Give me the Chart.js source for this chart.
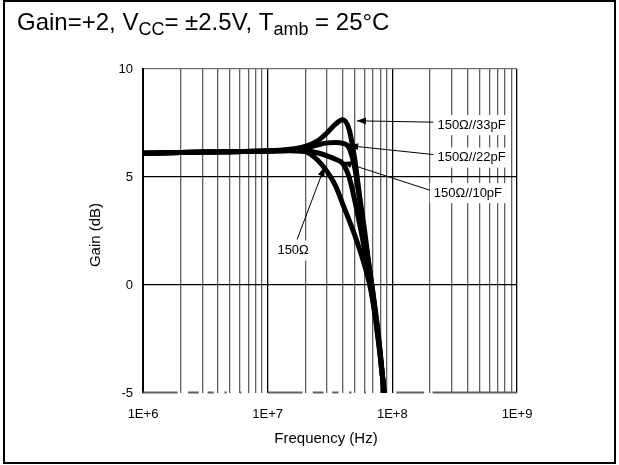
<!DOCTYPE html>
<html>
<head>
<meta charset="utf-8">
<script src="https://cdn.jsdelivr.net/npm/chart.js@4.4.0/dist/chart.umd.min.js"></script>
<style>
  html, body { margin: 0; padding: 0; background: #fff; }
  canvas { display: block; }
</style>
</head>
<body>
<canvas id="gainChart" width="619" height="465"></canvas>
<script>
// frequency points in MHz, gains in dB
const freqsMHz = [1, 2, 5, 10, 15, 20, 25, 30, 35, 40, 45, 50, 55, 60, 65, 70, 78, 86];
const gain150 = [6.10, 6.13, 6.17, 6.20, 6.22, 6.18, 5.80, 5.25, 4.60, 3.75, 3.00, 2.30, 1.60, 0.90, 0.15, -0.80, -2.80, -5.00];
const gain10pF = [6.10, 6.13, 6.17, 6.20, 6.23, 6.21, 6.12, 5.98, 5.82, 5.63, 5.00, 3.90, 2.75, 1.60, 0.40, -0.70, -2.70, -5.00];
const gain22pF = [6.10, 6.13, 6.17, 6.20, 6.25, 6.33, 6.48, 6.58, 6.60, 6.56, 6.35, 5.40, 3.80, 2.20, 0.90, -0.40, -2.60, -5.00];
const gain33pF = [6.10, 6.13, 6.17, 6.20, 6.28, 6.42, 6.66, 7.05, 7.45, 7.65, 7.20, 5.80, 4.00, 2.50, 0.90, -0.40, -2.50, -5.00];

const xTickLabels = ['1E+6', '1E+7', '1E+8', '1E+9'];
const yTicks = [-5, 0, 5, 10];

// callouts: label anchor (f in Hz, gain) and arrow tip
const noteTexts = ['150Ω//33pF', '150Ω//22pF', '150Ω//10pF', '150Ω'];
const noteAt = [[230e6, 7.4], [230e6, 5.9], [215e6, 4.25], [16e6, 1.6]];
const noteTip = [[52e6, 7.6], [45e6, 6.45], [40e6, 5.7], [28.5e6, 5.45]];

const FONT = '"Liberation Sans", Arial, sans-serif';

function series(gains) {
    return gains.map((g, i) => ({ x: freqsMHz[i] * 1e6, y: g }));
}

function arrow(ctx, x0, y0, x1, y1) {
    ctx.beginPath();
    ctx.moveTo(x0, y0);
    ctx.lineTo(x1, y1);
    ctx.stroke();
    const a = Math.atan2(y1 - y0, x1 - x0);
    const len = 9, w = 3.5;
    ctx.beginPath();
    ctx.moveTo(x1, y1);
    ctx.lineTo(x1 - len * Math.cos(a) + w * Math.sin(a), y1 - len * Math.sin(a) - w * Math.cos(a));
    ctx.lineTo(x1 - len * Math.cos(a) - w * Math.sin(a), y1 - len * Math.sin(a) + w * Math.cos(a));
    ctx.closePath();
    ctx.fill();
}

const decor = {
    id: 'decor',
    beforeDraw(chart) {
        const ctx = chart.ctx;
        ctx.save();
        ctx.fillStyle = '#fff';
        ctx.fillRect(0, 0, chart.width, chart.height);
        ctx.strokeStyle = '#000';
        ctx.lineWidth = 2;
        ctx.strokeRect(4, 1, 611, 462);

        // title with subscripts
        ctx.fillStyle = '#000';
        ctx.textBaseline = 'alphabetic';
        const parts = [['Gain=+2, V', 24, 0], ['CC', 18, 5], ['= ±2.5V, T', 24, 0], ['amb', 18, 5], [' = 25°C', 24, 0]];
        let x = 17;
        parts.forEach(([t, size, dy]) => {
            ctx.font = size + 'px ' + FONT;
            ctx.fillText(t, x, 30 + dy);
            x += ctx.measureText(t).width;
        });

        // axis titles
        const area = chart.chartArea;
        ctx.font = '15px ' + FONT;
        ctx.textAlign = 'center';
        ctx.textBaseline = 'middle';
        ctx.fillText('Frequency (Hz)', (area.left + area.right) / 2 - 4, 439);
        ctx.save();
        ctx.translate(96, (area.top + area.bottom) / 2 + 4);
        ctx.rotate(-Math.PI / 2);
        ctx.fillText('Gain (dB)', 0, 0);
        ctx.restore();
        ctx.restore();
    },
    afterDraw(chart) {
        // broken baseline at -5 dB
        const ctx = chart.ctx, xs = chart.scales.x, y = Math.round(chart.scales.y.getPixelForValue(-5)) - 0.5;
        const segs = [[1, 1.9], [2.3, 2.8], [3.3, 3.7], [4.5, 4.7], [6, 6.15]];
        ctx.save();
        ctx.strokeStyle = '#606060';
        ctx.lineWidth = 2;
        ctx.beginPath();
        [1e6, 1e7].forEach(d => segs.forEach(([a, b]) => {
            ctx.moveTo(xs.getPixelForValue(a * d), y);
            ctx.lineTo(xs.getPixelForValue(b * d), y);
        }));
        ctx.moveTo(xs.getPixelForValue(1e8) + 4, y);
        ctx.lineTo(xs.getPixelForValue(1.8e8), y);
        ctx.moveTo(xs.getPixelForValue(2.1e8), y);
        ctx.lineTo(xs.getPixelForValue(1e9), y);
        ctx.stroke();
        ctx.restore();
    },
    afterDatasetsDraw(chart) {
        const ctx = chart.ctx, xs = chart.scales.x, ys = chart.scales.y;
        ctx.save();
        ctx.font = '13px ' + FONT;
        ctx.textBaseline = 'middle';
        ctx.strokeStyle = '#000';
        ctx.fillStyle = '#000';
        ctx.lineWidth = 1;
        noteTexts.forEach((t, i) => {
            const lx = xs.getPixelForValue(noteAt[i][0]);
            const ly = ys.getPixelForValue(noteAt[i][1]);
            const tx = xs.getPixelForValue(noteTip[i][0]);
            const ty = ys.getPixelForValue(noteTip[i][1]);
            const w = ctx.measureText(t).width;
            const isSide = t !== '150Ω';
            const left = isSide ? lx : lx - w / 2;
            ctx.fillStyle = '#fff';
            ctx.fillRect(left - 4, ly - 10, w + 8, 20);
            ctx.fillStyle = '#000';
            ctx.textAlign = 'left';
            ctx.fillText(t, left, ly);
            if (isSide) arrow(ctx, left - 4, ly - 3, tx, ty);
            else arrow(ctx, lx + 4, ly - 11, tx, ty);
        });
        ctx.restore();
    }
};

const lineStyle = { borderColor: '#000', borderWidth: 5, pointRadius: 0, cubicInterpolationMode: 'monotone', fill: false };

new Chart(document.getElementById('gainChart'), {
    type: 'line',
    data: {
        datasets: [
            { label: '150Ω', data: series(gain150), ...lineStyle },
            { label: '150Ω//10pF', data: series(gain10pF), ...lineStyle },
            { label: '150Ω//22pF', data: series(gain22pF), ...lineStyle },
            { label: '150Ω//33pF', data: series(gain33pF), ...lineStyle }
        ]
    },
    options: {
        responsive: false,
        animation: false,
        devicePixelRatio: 1,
        layout: { padding: { top: 69, right: 102, bottom: 0, left: 0 } },
        plugins: { legend: { display: false }, tooltip: { enabled: false } },
        scales: {
            x: {
                type: 'logarithmic',
                min: 1e6,
                max: 1e9,
                afterFit(scale) { scale.height = 72; },
                afterBuildTicks(scale) {
                    const ticks = [];
                    for (let d = 1e6; d < 1e9; d *= 10) {
                        for (let m = 1; m < 10; m++) ticks.push({ value: m * d });
                    }
                    ticks.push({ value: 1e9 });
                    scale.ticks = ticks;
                },
                ticks: {
                    autoSkip: false,
                    maxRotation: 0,
                    padding: 14,
                    color: '#000',
                    font: { family: FONT, size: 13 },
                    callback(value) {
                        const e = Math.log10(value);
                        return Math.abs(e - Math.round(e)) < 1e-6 ? xTickLabels[Math.round(e) - 6] : '';
                    }
                },
                grid: {
                    drawTicks: false,
                    lineWidth: 1.3,
                    color(ctx) {
                        const v = ctx.tick && ctx.tick.value;
                        const e = Math.log10(v);
                        return Math.abs(e - Math.round(e)) < 1e-6 ? '#000' : '#606060';
                    }
                },
                border: { display: false }
            },
            y: {
                min: -5,
                max: 10,
                afterFit(scale) { scale.width = 143; },
                afterBuildTicks(scale) { scale.ticks = yTicks.map(v => ({ value: v })); },
                ticks: {
                    padding: 10,
                    color: '#000',
                    font: { family: FONT, size: 13 }
                },
                grid: {
                    drawTicks: false,
                    lineWidth: 1.3,
                    color(ctx) {
                        const v = ctx.tick && ctx.tick.value;
                        if (v === -5) return 'rgba(0,0,0,0)';
                        if (v === 10) return '#707070';
                        return '#000';
                    }
                },
                border: { display: true, color: '#000', width: 2 }
            }
        }
    },
    plugins: [decor]
});
</script>
</body>
</html>
